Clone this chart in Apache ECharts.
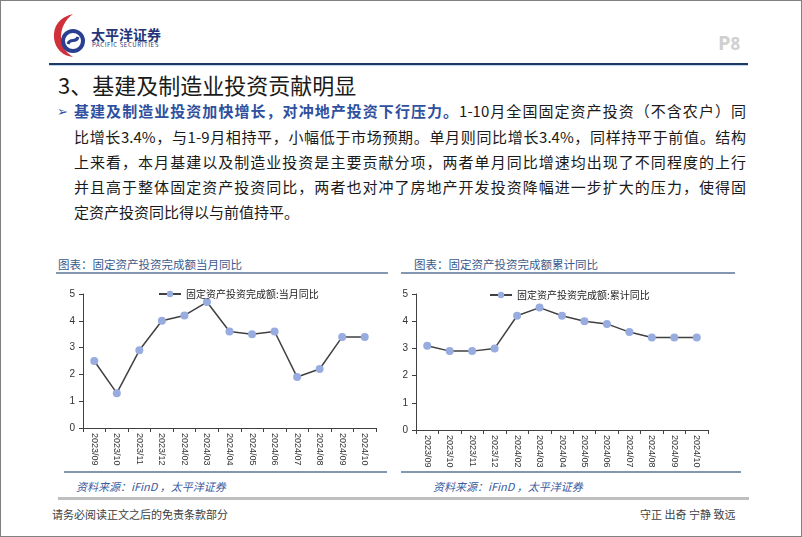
<!DOCTYPE html>
<html>
<head>
<meta charset="utf-8">
<script src="https://cdn.jsdelivr.net/npm/echarts@6/dist/echarts.min.js"></script>
<style>
  html, body { margin: 0; padding: 0; background: #fff; }
  #page { position: relative; width: 802px; height: 537px; box-sizing: border-box; border: 1px solid #808080; overflow: hidden; font-family: "Noto Sans CJK SC", sans-serif; }
  .abs { position: absolute; white-space: nowrap; }
  .para { position: absolute; left: 73px; width: 672px; font-size: 15px; color: #1a1a1a; text-align: justify; text-align-last: justify; line-height: 20px; }
  .hline { position: absolute; }
  #chart { position: absolute; left: 0; top: 0; width: 802px; height: 537px; }
</style>
</head>
<body>
<div id="page">
  <!-- logo -->
  <svg class="abs" style="left:50px;top:10px" width="36" height="48" viewBox="0 0 36 48">
    <path d="M22 3 C8 6 2 16 3 27 C4 38 12 45 22 46 C14 41 10 34 10 26 C10 17 14 9 22 3 Z" fill="#d0303a"/>
    <circle cx="22" cy="30" r="10" fill="none" stroke="#2a3f8f" stroke-width="4"/>
    <path d="M17 33 C19 26 25 33 27 26" fill="none" stroke="#2a3f8f" stroke-width="3"/>
  </svg>
  <div class="abs" style="left:90px;top:23px;font-size:14px;font-weight:bold;color:#24357a">太平洋证券</div>
  <div class="abs" style="left:91px;top:40px;font-size:6px;line-height:8px;color:#24357a;letter-spacing:0.6px">PACIFIC SECURITIES</div>
  <div class="abs" style="left:717px;top:28px;font-size:20px;font-weight:bold;color:#d0d0d0;font-family:'Open Sans',sans-serif">P<span style="font-size:17px">8</span></div>
  <div class="hline" style="left:48px;top:62px;width:699px;height:2px;background:#1f3864"></div>
  <div class="hline" style="left:48px;top:64px;width:699px;height:1px;background:#bdd7ee"></div>

  <div class="abs" style="left:57px;top:68px;font-size:22px;color:#1a1a1a;line-height:30px">3、基建及制造业投资贡献明显</div>

  <div class="abs" style="left:56px;top:100px;font-size:13px;color:#2f54a6;line-height:20px">➢</div>
  <div class="para" style="top:100px"><span style="color:#2f4f9f;font-weight:bold">基建及制造业投资加快增长，对冲地产投资下行压力。</span>1-10月全国固定资产投资（不含农户）同</div>
  <div class="para" style="top:126px">比增长3.4%，与1-9月相持平，小幅低于市场预期。单月则同比增长3.4%，同样持平于前值。结构</div>
  <div class="para" style="top:151px">上来看，本月基建以及制造业投资是主要贡献分项，两者单月同比增速均出现了不同程度的上行</div>
  <div class="para" style="top:176px">并且高于整体固定资产投资同比，两者也对冲了房地产开发投资降幅进一步扩大的压力，使得固</div>
  <div class="para" style="top:201px;text-align-last:left">定资产投资同比得以与前值持平。</div>

  <div class="abs" style="left:57px;top:255px;font-size:11.5px;color:#3a5b8c">图表：固定资产投资完成额当月同比</div>
  <div class="abs" style="left:413px;top:255px;font-size:11.5px;color:#3a5b8c">图表：固定资产投资完成额累计同比</div>
  <div class="hline" style="left:55px;top:271px;width:332px;height:2px;background:#8497b0"></div>
  <div class="hline" style="left:400px;top:271px;width:334px;height:2px;background:#8497b0"></div>

  <div class="hline" style="left:63px;top:470px;width:323px;height:2px;background:#8497b0"></div>
  <div class="hline" style="left:400px;top:470px;width:340px;height:2px;background:#8497b0"></div>
  <div class="abs" style="left:75px;top:477px;font-size:11px;font-style:italic;color:#3b5a9d">资料来源：iFinD ，太平洋证券</div>
  <div class="abs" style="left:432px;top:477px;font-size:11px;font-style:italic;color:#3b5a9d">资料来源：iFinD ，太平洋证券</div>

  <div class="hline" style="left:57px;top:496px;width:691px;height:3px;background:#bfbfbf"></div>
  <div class="abs" style="left:51px;top:505px;font-size:11px;color:#404040">请务必阅读正文之后的免责条款部分</div>
  <div class="abs" style="left:639px;top:505px;font-size:11px;color:#404040">守正 出奇 宁静 致远</div>

  <div id="chart"></div>
</div>
<script>
const categories = ['2023/09', '2023/10', '2023/11', '2023/12', '2024/02', '2024/03', '2024/04', '2024/05', '2024/06', '2024/07', '2024/08', '2024/09', '2024/10']
const monthlyName = '固定资产投资完成额:当月同比'
const monthlyValues = [2.5, 1.3, 2.9, 4.0, 4.2, 4.7, 3.6, 3.5, 3.6, 1.9, 2.2, 3.4, 3.4]
const cumulativeName = '固定资产投资完成额:累计同比'
const cumulativeValues = [3.1, 2.9, 2.9, 3.0, 4.2, 4.5, 4.2, 4.0, 3.9, 3.6, 3.4, 3.4, 3.4]
const yTicks = [0, 1, 2, 3, 4, 5]

const chart = echarts.init(document.getElementById('chart'), null, { renderer: 'canvas' })

const axisColor = '#404040'
const makeX = (gridIndex) => ({
  type: 'category',
  gridIndex,
  data: categories,
  boundaryGap: true,
  axisLine: { lineStyle: { color: axisColor, width: 1 } },
  axisTick: { show: true, length: 4, lineStyle: { color: axisColor } },
  axisLabel: { rotate: -90, interval: 0, fontSize: 9, color: '#333', margin: 5, fontFamily: 'Liberation Sans, Arial' }
})
const makeY = (gridIndex) => ({
  type: 'value',
  gridIndex,
  min: yTicks[0],
  max: yTicks[yTicks.length - 1],
  interval: 1,
  splitLine: { show: false },
  axisLine: { show: true, lineStyle: { color: axisColor, width: 1 } },
  axisTick: { show: true, length: 4, lineStyle: { color: axisColor } },
  axisLabel: { fontSize: 10, color: '#333', margin: 8, fontFamily: 'Liberation Sans, Arial' }
})
const makeSeries = (name, data, idx) => ({
  name,
  type: 'line',
  xAxisIndex: idx,
  yAxisIndex: idx,
  data,
  symbol: 'circle',
  symbolSize: 8,
  lineStyle: { color: '#404040', width: 1.5 },
  itemStyle: { color: '#98acdf' },
  animation: false
})

chart.setOption({
  animation: false,
  grid: [
    { left: 82, right: 427, top: 293, bottom: 110 },
    { left: 415, right: 95, top: 293, bottom: 108 }
  ],
  legend: [
    {
      data: [monthlyName], left: 152, top: 283, itemWidth: 22, itemHeight: 8, itemGap: 4,
      textStyle: { fontSize: 10, color: '#222', fontFamily: 'Noto Sans CJK SC' }
    },
    {
      data: [cumulativeName], left: 483, top: 284, itemWidth: 22, itemHeight: 8, itemGap: 4,
      textStyle: { fontSize: 10, color: '#222', fontFamily: 'Noto Sans CJK SC' }
    }
  ],
  xAxis: [makeX(0), makeX(1)],
  yAxis: [makeY(0), makeY(1)],
  series: [
    makeSeries(monthlyName, monthlyValues, 0),
    makeSeries(cumulativeName, cumulativeValues, 1)
  ]
})
</script>
</body>
</html>
